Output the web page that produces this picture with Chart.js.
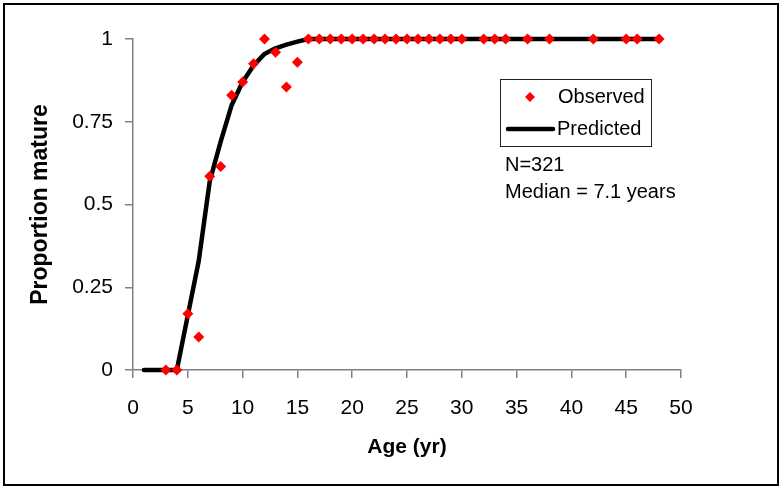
<!DOCTYPE html>
<html lang="en">
<head>
    <meta charset="UTF-8" />
    <title>Proportion mature by age</title>
    <script src="https://cdn.jsdelivr.net/npm/chart.js@4.4.1/dist/chart.umd.min.js"></script>
    <style>
        html, body { margin: 0; padding: 0; background: #fff; }
        #wrap { width: 780px; height: 487px; }
    </style>
</head>
<body>
    <div id="wrap">
        <canvas id="maturityChart" width="780" height="487"></canvas>
    </div>

    <script>
        // Observed proportion mature by age
        const observedAges = [3, 4, 5, 6, 7, 8, 9, 10, 11, 12, 13, 14, 15,
            16, 17, 18, 19, 20, 21, 22, 23, 24, 25, 26, 27, 28, 29, 30,
            32, 33, 34, 36, 38, 42, 45, 46, 48];
        const observedValues = [0, 0, 0.17, 0.10, 0.585, 0.615, 0.83, 0.87, 0.925, 1, 0.96, 0.855, 0.93,
            1, 1, 1, 1, 1, 1, 1, 1, 1, 1, 1, 1, 1, 1, 1,
            1, 1, 1, 1, 1, 1, 1, 1, 1];

        // Predicted (fitted) curve
        const predictedAges = [1, 2, 3, 4, 5, 6, 7, 8, 9, 10, 11, 12, 13, 14, 15, 16, 48];
        const predictedValues = [0, 0, 0, 0, 0.165, 0.33, 0.57, 0.69, 0.80, 0.87, 0.92, 0.955, 0.972, 0.983, 0.992, 1, 1];

        const xTicks = [0, 5, 10, 15, 20, 25, 30, 35, 40, 45, 50];
        const yTicks = [0, 0.25, 0.5, 0.75, 1];
        const legendLabels = ['Observed', 'Predicted'];
        const notes = ['N=321', 'Median = 7.1 years'];

        const FONT = "'Liberation Sans', Arial, sans-serif";
        const AXIS_GREY = '#808080';

        const toPoints = (xs, ys) => xs.map((x, i) => ({ x: x, y: ys[i] }));

        // marco exterior + leyenda + notas
        const extrasPlugin = {
            id: 'extras',
            afterDraw(chart) {
                const ctx = chart.ctx;
                const obs = chart.data.datasets[0];
                const pred = chart.data.datasets[1];
                ctx.save();

                ctx.strokeStyle = '#000';
                ctx.lineWidth = 2;
                ctx.strokeRect(4, 4, 774, 481);

                // legend box
                ctx.lineWidth = 1;
                ctx.strokeStyle = '#222';
                ctx.strokeRect(500.5, 79.5, 151, 67);

                ctx.fillStyle = obs.backgroundColor;
                ctx.beginPath();
                ctx.moveTo(530, 92);
                ctx.lineTo(535, 97);
                ctx.lineTo(530, 102);
                ctx.lineTo(525, 97);
                ctx.closePath();
                ctx.fill();

                ctx.strokeStyle = pred.borderColor;
                ctx.lineWidth = pred.borderWidth;
                ctx.lineCap = 'round';
                ctx.beginPath();
                ctx.moveTo(508, 129);
                ctx.lineTo(553, 129);
                ctx.stroke();

                ctx.fillStyle = '#000';
                ctx.font = '20px ' + FONT;
                ctx.textAlign = 'left';
                ctx.textBaseline = 'middle';
                ctx.fillText(legendLabels[0], 558, 97);
                ctx.fillText(legendLabels[1], 557, 129);

                ctx.fillText(notes[0], 505, 165);
                ctx.fillText(notes[1], 505, 192);
                ctx.restore();
            }
        };

        new Chart(document.getElementById('maturityChart'), {
            type: 'scatter',
            data: {
                datasets: [{
                    label: legendLabels[0],
                    data: toPoints(observedAges, observedValues),
                    backgroundColor: '#ff0000',
                    borderColor: '#ff0000',
                    borderWidth: 0,
                    pointStyle: 'rectRot',
                    pointRadius: 5.5,
                    showLine: false,
                    order: 0,
                    clip: false
                }, {
                    label: legendLabels[1],
                    data: toPoints(predictedAges, predictedValues),
                    borderColor: '#000000',
                    backgroundColor: '#000000',
                    borderWidth: 4.5,
                    pointRadius: 0,
                    showLine: true,
                    tension: 0,
                    borderCapStyle: 'round',
                    borderJoinStyle: 'round',
                    order: 1,
                    clip: false
                }]
            },
            options: {
                responsive: false,
                animation: false,
                layout: { padding: { left: 0, top: 39, right: 99, bottom: 0 } },
                plugins: {
                    legend: { display: false },
                    tooltip: { enabled: false }
                },
                scales: {
                    x: {
                        type: 'linear',
                        min: 0,
                        max: 50,
                        afterBuildTicks: s => { s.ticks = xTicks.map(v => ({ value: v })); },
                        afterFit: s => { s.height = 117; },
                        grid: { drawOnChartArea: false, color: AXIS_GREY, tickLength: 8, lineWidth: 1.5 },
                        border: { color: AXIS_GREY, width: 1.5 },
                        ticks: {
                            color: '#000', font: { family: FONT, size: 21 }, padding: 18, maxRotation: 0,
                            callback: v => String(v)
                        },
                        title: {
                            display: true,
                            text: 'Age (yr)',
                            color: '#000',
                            font: { family: FONT, size: 21, weight: 'bold' },
                            padding: { top: 0, bottom: 27 }
                        }
                    },
                    y: {
                        type: 'linear',
                        min: 0,
                        max: 1,
                        afterBuildTicks: s => { s.ticks = yTicks.map(v => ({ value: v })); },
                        afterFit: s => { s.width = 133; },
                        grid: { drawOnChartArea: false, color: AXIS_GREY, tickLength: 8, lineWidth: 1.5 },
                        border: { color: AXIS_GREY, width: 1.5 },
                        ticks: {
                            color: '#000', font: { family: FONT, size: 21 }, padding: 12,
                            callback: v => String(v)
                        },
                        title: {
                            display: true,
                            text: 'Proportion mature',
                            color: '#000',
                            font: { family: FONT, size: 23, weight: 'bold' },
                            padding: { top: 27, bottom: 0 }
                        }
                    }
                }
            },
            plugins: [extrasPlugin]
        });
    </script>
</body>
</html>
